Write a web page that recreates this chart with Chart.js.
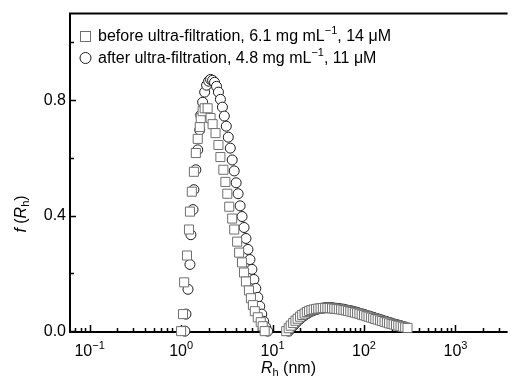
<!DOCTYPE html>
<html>
<head>
<meta charset="utf-8">
<script src="https://cdn.jsdelivr.net/npm/chart.js@4.4.1/dist/chart.umd.min.js"></script>
<style>
  html, body { margin: 0; padding: 0; background: #fff; overflow: hidden; }
</style>
</head>
<body>
<canvas id="chart" width="515" height="383"></canvas>
<script>
// ====== f(Rh) size distribution, before / after ultra-filtration ======

// ---------- Data ----------
// before ultra-filtration (squares)
const rhBefore = [
  1.00, 1.05, 1.08, 1.16, 1.22, 1.25, 1.31, 1.38, 1.45, 1.52, 1.60, 1.64, 1.72, 1.81, 1.95,
  2.10, 2.21, 2.38, 2.56, 2.69, 2.90, 3.05, 3.20, 3.36, 3.62, 3.81, 4.10, 4.31, 4.64, 4.88,
  5.12, 5.52, 5.80, 6.10, 6.40, 6.90, 7.43, 7.80, 8.20,
  14.1, 15.0, 15.8, 16.8, 17.8, 18.8, 20.0, 21.1, 22.4, 23.7, 25.1, 26.6, 28.2, 29.9, 31.6,
  33.5, 35.5, 37.6, 39.8, 42.2, 44.7, 47.3, 50.1, 53.1, 56.2, 59.6, 63.1, 66.8, 70.8, 75.0,
  79.4, 84.1, 89.1, 94.4, 100, 106, 112, 119, 126, 133, 141, 150, 158, 168, 178, 188, 200,
  211, 224, 237, 251, 266, 282, 299
];
const fBefore = [
  0.000, 0.059, 0.169, 0.262, 0.352, 0.414, 0.483, 0.552, 0.617, 0.666, 0.707, 0.738, 0.762, 0.772, 0.772,
  0.738, 0.717, 0.686, 0.645, 0.603, 0.559, 0.517, 0.476, 0.431, 0.390, 0.352, 0.310, 0.272, 0.238, 0.203,
  0.172, 0.141, 0.114, 0.090, 0.069, 0.048, 0.031, 0.017, 0.000,
  0.000, 0.010, 0.019, 0.028, 0.036, 0.043, 0.050, 0.056, 0.061, 0.066, 0.070, 0.073, 0.075, 0.077, 0.078,
  0.079, 0.080, 0.080, 0.080, 0.080, 0.079, 0.078, 0.077, 0.076, 0.075, 0.073, 0.072, 0.070, 0.068, 0.066,
  0.064, 0.062, 0.060, 0.057, 0.055, 0.052, 0.050, 0.047, 0.045, 0.042, 0.040, 0.037, 0.035, 0.032, 0.030, 0.027, 0.025,
  0.023, 0.021, 0.019, 0.017, 0.015, 0.013, 0.011
];
// after ultra-filtration (circles)
const rhAfter = [
  1.10, 1.13, 1.19, 1.25, 1.28, 1.35, 1.38, 1.45, 1.52, 1.60, 1.64, 1.72, 1.81, 1.90, 2.00,
  2.10, 2.21, 2.32, 2.44, 2.56, 2.69, 2.83, 2.97, 3.12, 3.28, 3.45, 3.62, 3.81, 4.00, 4.20,
  4.42, 4.64, 4.88, 5.12, 5.38, 5.66, 5.95, 6.25, 6.56, 6.90, 7.25, 7.62, 8.00, 8.41, 8.84,
  15.0, 15.8, 16.8, 17.8, 18.8, 20.0, 21.1, 22.4, 23.7, 25.1, 26.6, 28.2, 29.9, 31.6,
  33.5, 35.5, 37.6, 39.8, 42.2, 44.7, 47.3, 50.1, 53.1, 56.2, 59.6, 63.1, 66.8, 70.8, 75.0,
  79.4, 84.1, 89.1, 94.4, 100, 106, 112, 119, 126, 133, 141, 150, 158, 168, 178, 188, 200,
  211, 224, 237, 251, 266, 282
];
const fAfter = [
  0.000, 0.059, 0.145, 0.231, 0.334, 0.421, 0.490, 0.559, 0.628, 0.697, 0.748, 0.793, 0.828, 0.852, 0.866,
  0.872, 0.869, 0.862, 0.848, 0.828, 0.803, 0.776, 0.745, 0.710, 0.672, 0.634, 0.593, 0.555, 0.514, 0.476,
  0.434, 0.397, 0.359, 0.321, 0.283, 0.248, 0.214, 0.179, 0.148, 0.117, 0.086, 0.059, 0.034, 0.014, 0.000,
  0.000, 0.009, 0.018, 0.027, 0.035, 0.042, 0.049, 0.055, 0.060, 0.065, 0.069, 0.072, 0.075, 0.077,
  0.079, 0.080, 0.081, 0.081, 0.081, 0.081, 0.080, 0.079, 0.078, 0.077, 0.076, 0.074, 0.072, 0.071, 0.069,
  0.067, 0.065, 0.062, 0.060, 0.058, 0.055, 0.053, 0.050, 0.048, 0.045, 0.043, 0.040, 0.038, 0.035, 0.033, 0.030, 0.028,
  0.025, 0.023, 0.021, 0.019, 0.016, 0.014
];

// ---------- Axis ticks / labels ----------
const xTickValues = [0.1, 1, 10, 100, 1000];
const xTickExps   = ['\u22121', '0', '1', '2', '3'];
const yTickValues = [0, 0.4, 0.8];
const yMinorTicks = [0.2, 0.6, 1.0];
const legendRows = [
  [{t:'before ultra-filtration, 6.1 mg mL'}, {t:'\u22121', sup:true}, {t:', 14 \u03BCM'}],
  [{t:'after ultra-filtration, 4.8 mg mL'}, {t:'\u22121', sup:true}, {t:', 11 \u03BCM'}]
];

const FONT = '"Liberation Sans", Arial, Helvetica, sans-serif';
const SQ_COLOR = '#6f6f6f';
const CI_COLOR = '#1a1a1a';

// ---------- Rich text helper (italic / sub / sup) ----------
function partFont(p){
  const size = (p.sup || p.sub) ? 11 : 16;
  return (p.it ? 'italic ' : '') + size + 'px ' + FONT;
}
function richWidth(ctx, parts){
  let w = 0;
  parts.forEach(p => { ctx.font = partFont(p); w += ctx.measureText(p.t).width; });
  return w;
}
function drawRich(ctx, parts, x, y){
  let cx = x;
  parts.forEach(p => {
    ctx.font = partFont(p);
    const dy = p.sup ? -6 : (p.sub ? 4 : 0);
    ctx.fillText(p.t, cx, y + dy);
    cx += ctx.measureText(p.t).width;
  });
}

// ---------- Frame, inward ticks, labels, legend ----------
const framePlugin = {
  id: 'frame',
  beforeDatasetsDraw(chart){
    const {ctx, chartArea: a, scales: {x, y}} = chart;
    ctx.save();
    ctx.strokeStyle = '#000';
    ctx.lineWidth = 2;
    ctx.beginPath();
    ctx.moveTo(a.left, a.bottom); ctx.lineTo(a.right, a.bottom);
    ctx.moveTo(a.left, a.bottom + 1); ctx.lineTo(a.left, a.top);
    ctx.moveTo(a.left - 1, a.top); ctx.lineTo(a.right, a.top);
    ctx.stroke();

    // x ticks (log, inward)
    ctx.lineWidth = 1.5;
    ctx.beginPath();
    for(let e = -2; e <= 4; e++){
      for(let m = 1; m <= 9; m++){
        const v = m * Math.pow(10, e);
        if(v < x.min || v > x.max) continue;
        const px = Math.round(x.getPixelForValue(v)) + 0.5;
        const len = m === 1 ? 7 : 4;
        ctx.moveTo(px, a.bottom); ctx.lineTo(px, a.bottom - len);
      }
    }
    // y ticks (inward)
    yTickValues.forEach(v => {
      const py = Math.round(y.getPixelForValue(v)) + 0.5;
      ctx.moveTo(a.left, py); ctx.lineTo(a.left + 6, py);
    });
    yMinorTicks.forEach(v => {
      const py = Math.round(y.getPixelForValue(v)) + 0.5;
      ctx.moveTo(a.left, py); ctx.lineTo(a.left + 4, py);
    });
    ctx.stroke();

    // x tick labels 10^n
    ctx.fillStyle = '#000';
    ctx.textBaseline = 'middle';
    xTickValues.forEach((v, i) => {
      const parts = [{t:'10'}, {t:xTickExps[i], sup:true}];
      const w = richWidth(ctx, parts);
      const px = x.getPixelForValue(v);
      drawRich(ctx, parts, px - w / 2, a.bottom + 20);
    });

    // axis titles
    const xt = [{t:'R', it:true}, {t:'h', sub:true}, {t:' (nm)'}];
    drawRich(ctx, xt, (a.left + 515) / 2 - richWidth(ctx, xt) / 2 - 4, a.bottom + 37);
    const yt = [{t:'f', it:true}, {t:' ('}, {t:'R', it:true}, {t:'h', sub:true}, {t:')'}];
    ctx.translate(22, 214);
    ctx.rotate(-Math.PI / 2);
    drawRich(ctx, yt, -richWidth(ctx, yt) / 2, 0);
    ctx.restore();
  },
  afterDatasetsDraw(chart){
    const {ctx} = chart;
    ctx.save();
    // legend markers
    ctx.lineWidth = 1;
    ctx.fillStyle = '#fff';
    ctx.strokeStyle = SQ_COLOR;
    ctx.fillRect(80.5, 31.5, 10, 10); ctx.strokeRect(80.5, 31.5, 10, 10);
    ctx.strokeStyle = CI_COLOR;
    ctx.beginPath(); ctx.arc(85.5, 58, 5.5, 0, Math.PI * 2); ctx.fill(); ctx.stroke();
    // legend text
    ctx.fillStyle = '#000';
    ctx.textBaseline = 'middle';
    drawRich(ctx, legendRows[0], 98, 37);
    drawRich(ctx, legendRows[1], 98, 59);
    ctx.restore();
  }
};

// ---------- Chart ----------
const toXY = (xs, ys) => xs.map((v, i) => ({x: v, y: ys[i]}));

new Chart(document.getElementById('chart').getContext('2d'), {
  type: 'scatter',
  data: {
    datasets: [
      { label: 'before', data: toXY(rhBefore, fBefore), pointStyle: 'rect', pointRadius: 6.4,
        borderColor: SQ_COLOR, backgroundColor: '#fff', borderWidth: 1, clip: false },
      { label: 'after', data: toXY(rhAfter, fAfter), pointStyle: 'circle', pointRadius: 5,
        borderColor: CI_COLOR, backgroundColor: '#fff', borderWidth: 1, clip: false }
    ]
  },
  options: {
    responsive: false,
    animation: false,
    events: [],
    layout: { padding: { top: 13, right: 0, left: 0, bottom: 0 } },
    plugins: { legend: { display: false }, tooltip: { enabled: false } },
    scales: {
      x: {
        type: 'logarithmic',
        min: 0.061, max: 3715,
        grid: { display: false, drawTicks: false },
        border: { display: false },
        ticks: { display: false },
        afterFit: (s) => { s.height = 51; }
      },
      y: {
        min: -0.003, max: 1.1,
        grid: { display: false, drawTicks: false },
        border: { display: false },
        afterBuildTicks: (s) => { s.ticks = yTickValues.map(v => ({value: v})); },
        ticks: {
          color: '#000', padding: 4,
          font: { family: FONT, size: 16 },
          callback: (v) => v.toFixed(1)
        },
        afterFit: (s) => { s.width = 70; }
      }
    }
  },
  plugins: [framePlugin]
});
</script>
</body>
</html>
